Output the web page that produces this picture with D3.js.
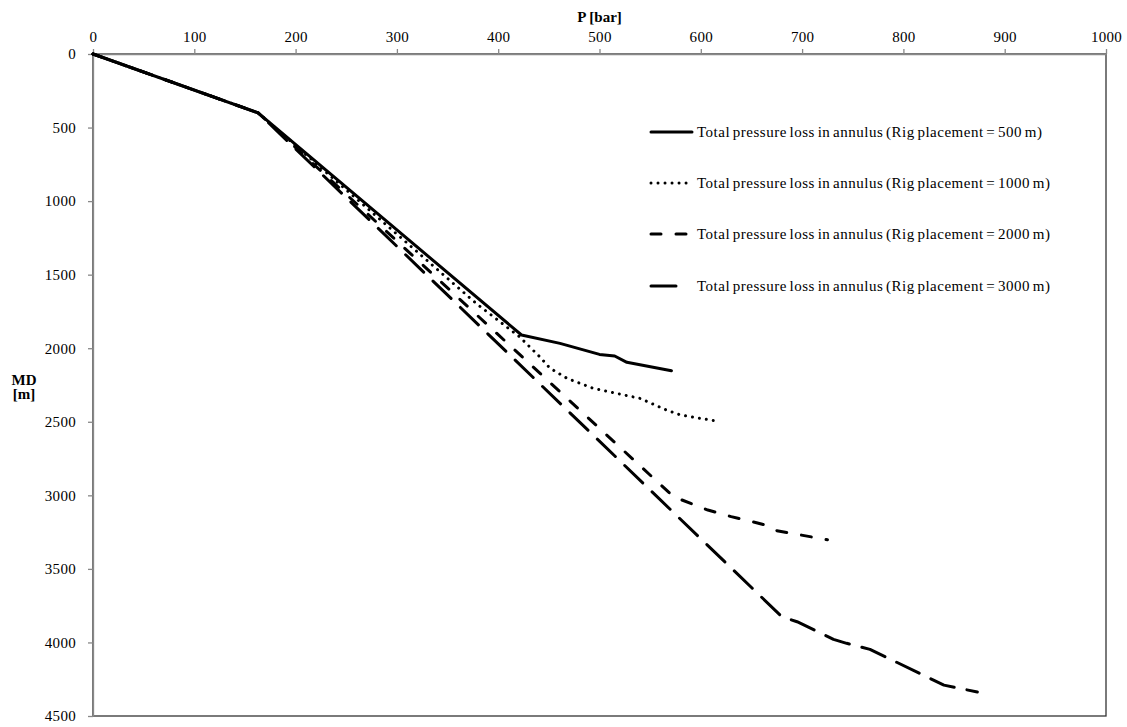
<!DOCTYPE html>
<html><head><meta charset="utf-8">
<script src="https://cdn.jsdelivr.net/npm/d3@7"></script>
<style>
body{margin:0;background:#fff}
text{font-family:"Liberation Serif","Times New Roman",serif;fill:#000}
</style>
</head><body>
<svg id="chart" width="1127" height="727"></svg>
<script>
// ---- data (P [bar], MD [m]) ----
const xTicks = [0,100,200,300,400,500,600,700,800,900,1000];
const yTicks = [0,500,1000,1500,2000,2500,3000,3500,4000,4500];
const seriesNames = [
  "Total pressure loss in annulus (Rig placement = 500 m)",
  "Total pressure loss in annulus (Rig placement = 1000 m)",
  "Total pressure loss in annulus (Rig placement = 2000 m)",
  "Total pressure loss in annulus (Rig placement = 3000 m)"
];
const rig500P  = [0,163,423,461,500,515,527,571];
const rig500MD = [0,400,1910,1967,2042,2053,2096,2153];
const rig1000P  = [0,163,379,421,441,451,468,494,540,566,580,614];
const rig1000MD = [0,400,1700,1922,2058,2135,2205,2273,2341,2420,2454,2493];
const rig2000P  = [0,163,573,607,630,655,667,675,699,725];
const rig2000MD = [0,400,3009,3100,3145,3186,3209,3240,3270,3302];
const rig3000P  = [0,163,680,695,731,744,767,840,873];
const rig3000MD = [0,400,3825,3859,3979,4006,4047,4290,4337];

const series = [
  {name:seriesNames[0], P:rig500P,  MD:rig500MD,  dash:null,     legEnd:692},
  {name:seriesNames[1], P:rig1000P, MD:rig1000MD, dash:"0.01,7", legEnd:692},
  {name:seriesNames[2], P:rig2000P, MD:rig2000MD, dash:"10,15",  legEnd:692},
  {name:seriesNames[3], P:rig3000P, MD:rig3000MD, dash:"25,13",  legEnd:686}
];

const svg = d3.select("#chart");
const L=93, R=1106, T=54, B=716;
const x = d3.scaleLinear().domain([0,1000]).range([L,R]);
const y = d3.scaleLinear().domain([0,4500]).range([T,B]);

// plot border
svg.append("rect").attr("x",L).attr("y",T).attr("width",R-L).attr("height",B-T)
  .attr("fill","none").attr("stroke","#333").attr("stroke-width",1.3);

// top axis
const gx = svg.append("g").attr("transform",`translate(0,${T})`)
  .call(d3.axisTop(x).tickValues(xTicks).tickFormat(d3.format("d")).tickSize(5).tickSizeOuter(0).tickPadding(7));
// left axis
const gy = svg.append("g").attr("transform",`translate(${L},0)`)
  .call(d3.axisLeft(y).tickValues(yTicks).tickFormat(d3.format("d")).tickSize(5).tickSizeOuter(0).tickPadding(12));
[gx,gy].forEach(g=>{
  g.selectAll("path.domain").attr("stroke","#888").attr("stroke-width",1.3);
  g.selectAll(".tick line").attr("stroke","#888").attr("stroke-width",1.3);
  g.selectAll(".tick text").attr("font-family","Liberation Serif").attr("font-size",15)
    .attr("fill","#000").style("letter-spacing","0.3px");
});

// axis titles
svg.append("text").attr("x",(L+R)/2).attr("y",22).attr("text-anchor","middle")
  .attr("font-size",15).attr("font-weight","bold").text("P [bar]");
svg.append("text").attr("x",24).attr("y",385).attr("text-anchor","middle")
  .attr("font-size",15).attr("font-weight","bold").text("MD");
svg.append("text").attr("x",24).attr("y",399).attr("text-anchor","middle")
  .attr("font-size",15).attr("font-weight","bold").text("[m]");

// lines
const line = d3.line().x(d=>x(d[0])).y(d=>y(d[1]));
series.forEach(s=>{
  const pts = s.P.map((p,i)=>[p,s.MD[i]]);
  const p = svg.append("path").datum(pts).attr("d",line)
    .attr("fill","none").attr("stroke","#000").attr("stroke-width",3)
    .attr("stroke-linejoin","round").attr("stroke-linecap","round");
  if(s.dash) p.attr("stroke-dasharray",s.dash);
});

// legend
const legY = [132,183,234,286];
series.forEach((s,i)=>{
  const g = svg.append("g").attr("transform",`translate(0,${legY[i]})`);
  const l = g.append("line").attr("x1",651).attr("x2",s.legEnd).attr("y1",0).attr("y2",0)
    .attr("stroke","#000").attr("stroke-width",3).attr("stroke-linecap","round");
  if(s.dash) l.attr("stroke-dasharray",s.dash);
  g.append("text").attr("x",697).attr("y",5).attr("font-size",15)
    .style("letter-spacing","0.5px").style("word-spacing","-1.5px").text(s.name);
});
</script>
</body></html>
